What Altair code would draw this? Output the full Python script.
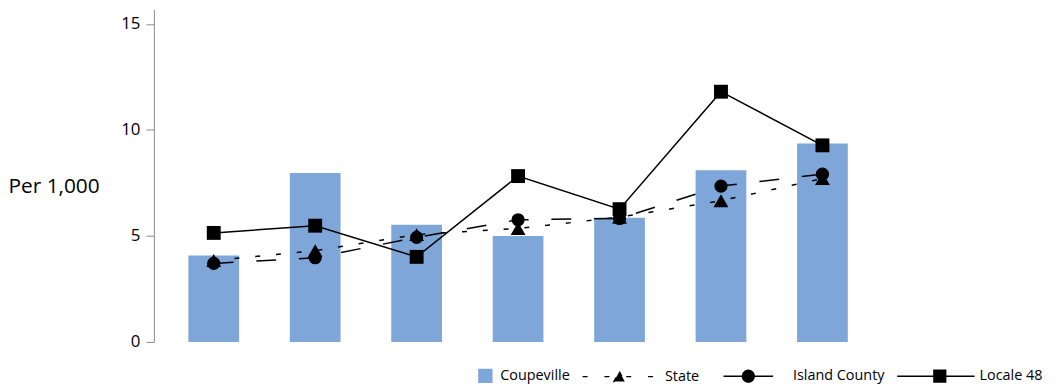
import altair as alt
import pandas as pd

categories = ["1", "2", "3", "4", "5", "6", "7"]
series_names = ["Coupeville", "State", "Island County", "Locale 48"]
coupeville = [4.07, 7.96, 5.52, 5.00, 5.85, 8.09, 9.36]
state = [3.84, 4.30, 5.06, 5.35, 5.88, 6.66, 7.70]
island_county = [3.70, 3.97, 4.93, 5.76, 5.82, 7.35, 7.91]
locale_48 = [5.14, 5.48, 4.01, 7.82, 6.26, 11.80, 9.27]
y_ticks = [0, 5, 10, 15]

rows = []
for name, vals in zip(series_names, [coupeville, state, island_county, locale_48]):
    for c, v in zip(categories, vals):
        rows.append({"cat": c, "series": name, "value": v})
df = pd.DataFrame(rows)

BLUE = "#7EA6D8"

# legend symbol glyphs (normalized symbol paths)
legend_paths = [
    "M0.6,-0.165H0.93V0.165H0.6Z",
    "M-0.968,0H0.866M-0.025,-0.127L0.115,0.127H-0.165Z",
    "M-0.637,0H0.637M-0.15,0A0.15,0.15 0 1,0 0.15,0A0.15,0.15 0 1,0 -0.15,0Z",
    "M-0.968,0H1.019M-0.024,-0.15H0.276V0.15H-0.024Z",
]
legend_fills = [BLUE, "black", "black", "black"]
legend_dashes = [[1, 0], [5, 17], [1, 0], [1, 0]]


def make_legend():
    return alt.Legend(
        title=None,
        orient="none",
        legendX=264,
        legendY=329,
        direction="horizontal",
        symbolSize=6162.25,
        symbolStrokeWidth=1.5,
        symbolOpacity=1,
        labelFont="Open Sans",
        labelFontSize=14.5,
        labelColor="black",
        labelOffset=5,
        columnPadding=9,
        padding=0,
    )


x = alt.X(
    "cat:N",
    sort=categories,
    axis=None,
    scale=alt.Scale(paddingInner=0.5, paddingOuter=0.34),
)
y = alt.Y(
    "value:Q",
    scale=alt.Scale(domain=[0, 15.68], nice=False, zero=True),
    axis=alt.Axis(
        values=y_ticks,
        title="Per 1,000",
        titleAngle=0,
        titleAlign="left",
        titleBaseline="middle",
        titleX=-147,
        titleY=178,
        titleFont="Open Sans",
        titleFontSize=21,
        titleFontWeight="normal",
        titleColor="black",
        labelFont="Open Sans",
        labelFontSize=17,
        labelColor="black",
        labelPadding=6,
        tickSize=8,
        tickColor="#8C8C8C",
        domainColor="#8C8C8C",
        grid=False,
    ),
)

base = alt.Chart(df)

bars = base.transform_filter(alt.datum.series == "Coupeville").mark_bar(
    color=BLUE
).encode(x=x, y=y)

layers = [bars]
specs = [
    ("State", [5, 16], "triangle-up", 225),
    ("Island County", [20, 23], "circle", 177),
    ("Locale 48", None, "square", 196),
]
for name, dash, shape, size in specs:
    sub = base.transform_filter(alt.datum.series == name)
    if dash:
        line = sub.mark_line(strokeWidth=1.5, strokeDash=dash, color="black")
    else:
        line = sub.mark_line(strokeWidth=1.5, color="black")
    layers.append(line.encode(x=x, y=y))
for name, dash, shape, size in specs:
    sub = base.transform_filter(alt.datum.series == name)
    pts = sub.mark_point(filled=True, shape=shape, size=size, opacity=1, color="black")
    layers.append(pts.encode(x=x, y=y))

# invisible layer that only carries the legend
legend_layer = base.mark_point(filled=True, opacity=0, strokeWidth=1.5).encode(
    x=x,
    y=y,
    fill=alt.Fill("series:N", scale=alt.Scale(domain=series_names, range=legend_fills), legend=make_legend()),
    stroke=alt.Stroke("series:N", scale=alt.Scale(domain=series_names, range=legend_fills), legend=make_legend()),
    shape=alt.Shape("series:N", scale=alt.Scale(domain=series_names, range=legend_paths), legend=make_legend()),
    strokeDash=alt.StrokeDash("series:N", scale=alt.Scale(domain=series_names, range=legend_dashes), legend=make_legend()),
)
layers.append(legend_layer)

chart = alt.layer(*layers).properties(
    width=734,
    height=335,
    autosize=alt.AutoSizeParams(type="none"),
    padding={"left": 147, "top": 0, "right": 169, "bottom": 43},
    background="white",
).configure_view(stroke=None)

chart.save("out.html", embed_options={"renderer": "svg", "actions": False})
